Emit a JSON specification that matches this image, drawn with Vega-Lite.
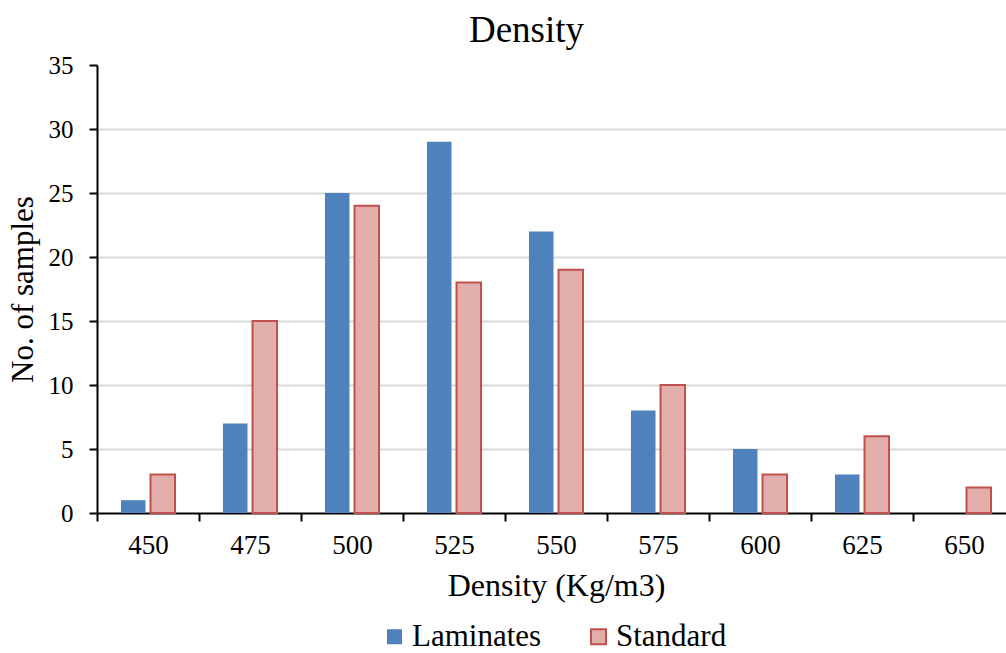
{
  "$schema": "https://vega.github.io/schema/vega-lite/v6.json",
  "autosize": {"type": "none"},
  "padding": {"left": 97, "top": 65, "right": 0, "bottom": 140},
  "width": 909,
  "height": 448,
  "background": "white",
  "config": {
    "font": "Liberation Serif",
    "view": {"stroke": null}
  },
  "title": {
    "text": "Density",
    "font": "Liberation Serif",
    "fontSize": 37,
    "fontWeight": "normal",
    "color": "black",
    "anchor": "middle",
    "dx": -25,
    "offset": 3
  },
  "data": {
    "values": [
      {"density": "450", "series": "Laminates", "count": 1},
      {"density": "450", "series": "Standard", "count": 3},
      {"density": "475", "series": "Laminates", "count": 7},
      {"density": "475", "series": "Standard", "count": 15},
      {"density": "500", "series": "Laminates", "count": 25},
      {"density": "500", "series": "Standard", "count": 24},
      {"density": "525", "series": "Laminates", "count": 29},
      {"density": "525", "series": "Standard", "count": 18},
      {"density": "550", "series": "Laminates", "count": 22},
      {"density": "550", "series": "Standard", "count": 19},
      {"density": "575", "series": "Laminates", "count": 8},
      {"density": "575", "series": "Standard", "count": 10},
      {"density": "600", "series": "Laminates", "count": 5},
      {"density": "600", "series": "Standard", "count": 3},
      {"density": "625", "series": "Laminates", "count": 3},
      {"density": "625", "series": "Standard", "count": 6},
      {"density": "650", "series": "Laminates", "count": 0},
      {"density": "650", "series": "Standard", "count": 2}
    ]
  },
  "mark": {"type": "bar", "strokeWidth": 2},
  "encoding": {
    "x": {
      "field": "density",
      "type": "nominal",
      "sort": null,
      "scale": {"range": [0, 918], "paddingInner": 0.47, "paddingOuter": 0.235},
      "axis": {
        "title": "Density (Kg/m3)",
        "titleFont": "Liberation Serif",
        "titleFontSize": 32,
        "titleFontWeight": "normal",
        "titleColor": "black",
        "titlePadding": 12,
        "titleX": 459,
        "labelAngle": 0,
        "labelFont": "Liberation Serif",
        "labelFontSize": 27,
        "labelColor": "black",
        "labelPadding": 11,
        "labelOffset": 51,
        "tickOffset": -51,
        "tickSize": 8,
        "tickWidth": 2,
        "tickColor": "black",
        "domainColor": "black",
        "domainWidth": 2,
        "grid": false
      }
    },
    "xOffset": {
      "field": "series",
      "type": "nominal",
      "scale": {"paddingInner": 0.17, "paddingOuter": 0}
    },
    "y": {
      "field": "count",
      "type": "quantitative",
      "scale": {"domain": [0, 35], "nice": false},
      "axis": {
        "title": "No. of samples",
        "titleFont": "Liberation Serif",
        "titleFontSize": 31,
        "titleFontWeight": "normal",
        "titleColor": "black",
        "titleX": -58,
        "titleY": 224,
        "titleAlign": "center",
        "titleBaseline": "bottom",
        "values": [0, 5, 10, 15, 20, 25, 30, 35],
        "labelFont": "Liberation Serif",
        "labelFontSize": 25,
        "labelColor": "black",
        "labelPadding": 16,
        "tickSize": 8,
        "tickWidth": 2,
        "tickColor": "black",
        "domainColor": "black",
        "domainWidth": 2,
        "grid": true,
        "gridWidth": 2,
        "gridColor": {"condition": {"test": "datum.value == 35 || datum.value == 0", "value": "transparent"}, "value": "#D9D9D9"}
      }
    },
    "fill": {
      "field": "series",
      "type": "nominal",
      "scale": {"domain": ["Laminates", "Standard"], "range": ["#4F81BD", "#E2AEAC"]},
      "legend": {
        "title": null,
        "orient": "none",
        "legendX": 282,
        "legendY": 556,
        "direction": "horizontal",
        "labelFont": "Liberation Serif",
        "labelFontSize": 31,
        "labelColor": "black",
        "labelOffset": 2,
        "symbolType": "square",
        "symbolSize": 225,
        "symbolStrokeWidth": 2,
        "columnPadding": 41
      }
    },
    "stroke": {
      "field": "series",
      "type": "nominal",
      "scale": {"domain": ["Laminates", "Standard"], "range": ["transparent", "#C0504D"]},
      "legend": null
    }
  }
}
